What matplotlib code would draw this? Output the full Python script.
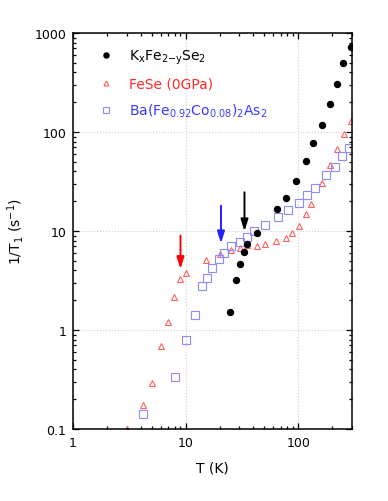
import numpy as np
import matplotlib
matplotlib.use("Agg")
import matplotlib.pyplot as plt
from matplotlib.ticker import LogLocator, FuncFormatter, NullFormatter

plt.rcParams['font.family'] = ['DejaVu Sans']
plt.rcParams['mathtext.default'] = 'regular'

# K_xFe_2-ySe_2
T_kfs = [25.0, 28.1, 30.1, 32.9, 35.2, 42.9, 64.2, 77.8, 95, 116, 136, 161, 191, 221, 251, 294]
r_kfs = [1.53, 3.20, 4.64, 6.14, 7.39, 9.6, 16.6, 21.7, 31.8, 51.3, 76.9, 119, 193, 303, 498, 728]

# FeSe (0GPa)
T_fese = [3.0, 4.22, 5.01, 6.02, 7.03, 7.95, 8.99, 10.0, 15.1, 20.1, 25.2, 30.1, 35.2, 42.9,
          50.2, 63.7, 77.8, 88.5, 100.6, 116, 131, 161, 191, 221, 256, 294]
r_fese = [0.1, 0.175, 0.29, 0.69, 1.20, 2.17, 3.25, 3.76, 5.09, 5.82, 6.38, 6.69, 7.27, 7.05,
          7.39, 7.87, 8.56, 9.48, 11.3, 15.0, 18.7, 30.3, 46.7, 66.9, 94.8, 128]

# Ba(Fe0.92Co0.08)2As2
T_ba = [4.22, 8.12, 10.0, 12.0, 14.1, 15.6, 17.1, 19.6, 22.0, 25.4, 30.5, 35.0, 40.1, 50.2,
        65.5, 80.3, 100.5, 120, 141, 176, 212, 245, 282]
r_ba = [0.142, 0.335, 0.79, 1.41, 2.78, 3.35, 4.2, 5.25, 6.0, 7.11, 7.8, 8.75, 10.0, 11.6,
        13.7, 16.3, 19.3, 22.9, 27.4, 36.5, 44.6, 57.6, 68.5]

# arrows: (T, y_start, y_end, colour)
arrows = [(9.0, 8.98, 4.13, '#ff0000'),
          (20.6, 18.0, 7.51, '#2020ff'),
          (33.3, 24.6, 9.93, '#000000')]

fig = plt.figure(figsize=(3.88, 5.02), dpi=100)
ax = fig.add_axes([73/388, 1-430/502, 279/388, 396/502])

ax.plot(T_kfs, r_kfs, 'o', color='black', ms=4.3, ls='none', label=r'K$_x$Fe$_{2\mathsf{-}y}$Se$_2$', zorder=3)
ax.plot(T_fese, r_fese, '^', mfc='none', mec='#ff6060', mew=0.8, ms=4.2, ls='none',
        label='FeSe (0GPa)', clip_on=True)
ax.plot(T_ba, r_ba, 's', mfc='none', mec='#8c8cff', mew=0.8, ms=5.2, ls='none',
        label=r'Ba(Fe$_{0.92}$Co$_{0.08}$)$_2$As$_2$')

for t, y0, y1, c in arrows:
    ax.annotate('', xy=(t, y1), xytext=(t, y0),
                arrowprops=dict(arrowstyle='-|>,head_length=0.7,head_width=0.22',
                                color=c, lw=1.4, shrinkA=0, shrinkB=0))

ax.set_xscale('log')
ax.set_yscale('log')
ax.set_xlim(1, 300)
ax.set_ylim(0.1, 1000)

fmt = FuncFormatter(lambda v, p: '%g' % v)
ax.xaxis.set_major_formatter(fmt)
ax.yaxis.set_major_formatter(fmt)
ax.xaxis.set_minor_formatter(NullFormatter())
ax.yaxis.set_minor_formatter(NullFormatter())
ax.yaxis.set_major_locator(LogLocator(base=10, numticks=10))
ax.yaxis.set_minor_locator(LogLocator(base=10, subs=np.arange(2, 10), numticks=10))

ax.tick_params(which='both', direction='in', top=True, right=True, labelsize=9, width=0.9)
ax.tick_params(which='major', length=4.5, pad=5)
ax.tick_params(which='minor', length=2.5)
for s in ax.spines.values():
    s.set_linewidth(1.1)

ax.grid(True, which='major', ls=':', color='#d0d0d0', lw=0.8)

ax.set_xlabel('T (K)', fontsize=10, labelpad=8)
ax.set_ylabel(r'1/T$_1$ (s$^{-1}$)', fontsize=10, labelpad=6)

leg = ax.legend(loc='upper left', bbox_to_anchor=(0.05, 0.995), frameon=False, fontsize=10,
                handletextpad=1.1, labelspacing=0.78, handlelength=1.0, markerscale=0.85,
                labelcolor=['black', '#ff2a2a', '#3a3aff'])

fig.savefig('out.png', dpi=100)
